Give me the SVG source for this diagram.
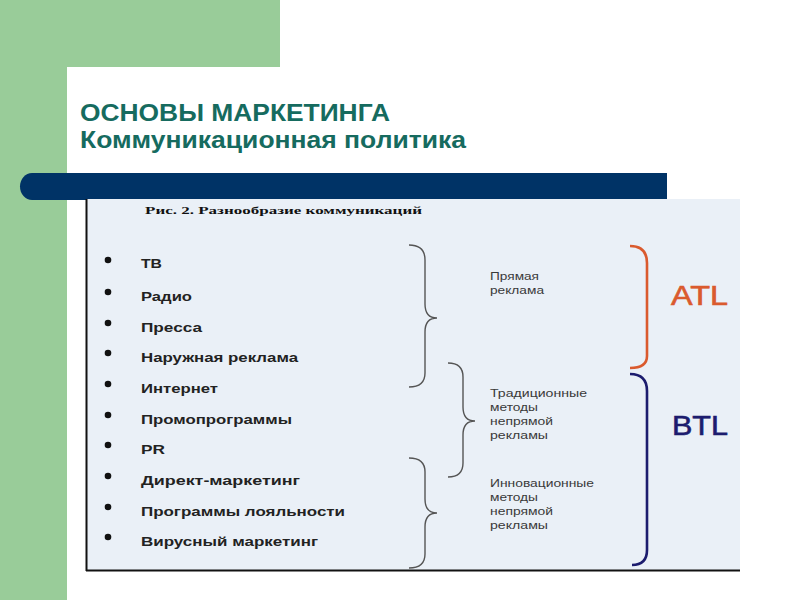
<svg xmlns="http://www.w3.org/2000/svg" width="800" height="600" viewBox="0 0 800 600">
<style>
.title{font-family:"Liberation Sans",Arial,sans-serif;font-weight:bold;font-size:24px;fill:#166b5f}
.item{font-family:"Liberation Sans",Arial,sans-serif;font-weight:bold;font-size:12px;fill:#222}
.lbl{font-family:"Liberation Sans",Arial,sans-serif;font-size:11px;fill:#3a3a3a}
.cap{font-family:"Liberation Serif","Times New Roman",serif;font-weight:bold;font-size:11px;fill:#111}
.big{font-family:"Liberation Sans",Arial,sans-serif;font-size:27px;stroke-width:0.6}
.brace{fill:none;stroke:#555;stroke-width:1.4}
.bullet{fill:#111}
</style>
<rect x="0" y="0" width="800" height="600" fill="#ffffff"/>
<rect x="0" y="0" width="280" height="67" fill="#99cc99"/>
<rect x="0" y="0" width="67" height="600" fill="#99cc99"/>
<rect x="67" y="67" width="800" height="600" rx="18" ry="18" fill="#ffffff"/>
<text class="title" x="80" y="121" textLength="310" lengthAdjust="spacingAndGlyphs">ОСНОВЫ МАРКЕТИНГА</text>
<text class="title" x="80" y="148" textLength="386" lengthAdjust="spacingAndGlyphs">Коммуникационная политика</text>
<path d="M32,173 H667 V200 H32 A12 13.5 0 0 1 32 173 Z" fill="#003366"/>
<rect x="86" y="199" width="654" height="371" fill="#eaf0f7"/>
<path d="M86.5,199 V571 M86,570.5 H740" fill="none" stroke="#111" stroke-width="2"/>
<text class="cap" x="145" y="214" textLength="277" lengthAdjust="spacingAndGlyphs">Рис. 2. Разнообразие коммуникаций</text>
<g id="list">
<circle class="bullet" cx="108" cy="260" r="3.3"/><text class="item" x="141" y="268" textLength="21" lengthAdjust="spacingAndGlyphs">ТВ</text>
<circle class="bullet" cx="108" cy="292" r="3.3"/><text class="item" x="141" y="301" textLength="51" lengthAdjust="spacingAndGlyphs">Радио</text>
<circle class="bullet" cx="108" cy="323" r="3.3"/><text class="item" x="141" y="332" textLength="61" lengthAdjust="spacingAndGlyphs">Пресса</text>
<circle class="bullet" cx="108" cy="353" r="3.3"/><text class="item" x="141" y="362" textLength="157" lengthAdjust="spacingAndGlyphs">Наружная реклама</text>
<circle class="bullet" cx="108" cy="384" r="3.3"/><text class="item" x="141" y="393" textLength="77" lengthAdjust="spacingAndGlyphs">Интернет</text>
<circle class="bullet" cx="108" cy="415" r="3.3"/><text class="item" x="141" y="424" textLength="151" lengthAdjust="spacingAndGlyphs">Промопрограммы</text>
<circle class="bullet" cx="108" cy="445" r="3.3"/><text class="item" x="141" y="454" textLength="24" lengthAdjust="spacingAndGlyphs">PR</text>
<circle class="bullet" cx="108" cy="476" r="3.3"/><text class="item" x="141" y="485" textLength="159" lengthAdjust="spacingAndGlyphs">Директ-маркетинг</text>
<circle class="bullet" cx="108" cy="507" r="3.3"/><text class="item" x="141" y="516" textLength="204" lengthAdjust="spacingAndGlyphs">Программы лояльности</text>
<circle class="bullet" cx="108" cy="537" r="3.3"/><text class="item" x="141" y="546" textLength="177" lengthAdjust="spacingAndGlyphs">Вирусный маркетинг</text>
</g>
<g id="connectors">
<path class="brace" d="M409,245 Q425,245 425,260 L425,304 Q425,318 437,318 Q425,318 425,332 L425,373 Q425,387 409,387"/>
<path class="brace" d="M448,363 Q463,363 463,377 L463,407 Q463,421 475,421 Q463,421 463,435 L463,463 Q463,477 448,477"/>
<path class="brace" d="M409,458 Q425,458 425,472 L425,499 Q425,513 437,513 Q425,513 425,527 L425,554 Q425,568 409,568"/>
<path d="M630,246 Q647,246 647,263 L647,356 Q647,368 630,368" fill="none" stroke="#da5a2e" stroke-width="2.6"/>
<path d="M630,374 Q647,374 647,391 L647,550 Q647,565 632,565" fill="none" stroke="#1c1c6e" stroke-width="2.6"/>
</g>
<g id="labels">
<text class="lbl" x="490" y="280" textLength="49" lengthAdjust="spacingAndGlyphs">Прямая</text>
<text class="lbl" x="490" y="294" textLength="54" lengthAdjust="spacingAndGlyphs">реклама</text>
<text class="lbl" x="490" y="397" textLength="97" lengthAdjust="spacingAndGlyphs">Традиционные</text>
<text class="lbl" x="490" y="411" textLength="48" lengthAdjust="spacingAndGlyphs">методы</text>
<text class="lbl" x="490" y="425" textLength="63" lengthAdjust="spacingAndGlyphs">непрямой</text>
<text class="lbl" x="490" y="439" textLength="58" lengthAdjust="spacingAndGlyphs">рекламы</text>
<text class="lbl" x="490" y="487" textLength="104" lengthAdjust="spacingAndGlyphs">Инновационные</text>
<text class="lbl" x="490" y="501" textLength="48" lengthAdjust="spacingAndGlyphs">методы</text>
<text class="lbl" x="490" y="515" textLength="63" lengthAdjust="spacingAndGlyphs">непрямой</text>
<text class="lbl" x="490" y="529" textLength="58" lengthAdjust="spacingAndGlyphs">рекламы</text>
<text class="big" x="671" y="305" fill="#da5a2e" stroke="#da5a2e" textLength="57" lengthAdjust="spacingAndGlyphs">ATL</text>
<text class="big" x="672" y="435" fill="#1c1c6e" stroke="#1c1c6e" textLength="56" lengthAdjust="spacingAndGlyphs">BTL</text>
</g>
</svg>
